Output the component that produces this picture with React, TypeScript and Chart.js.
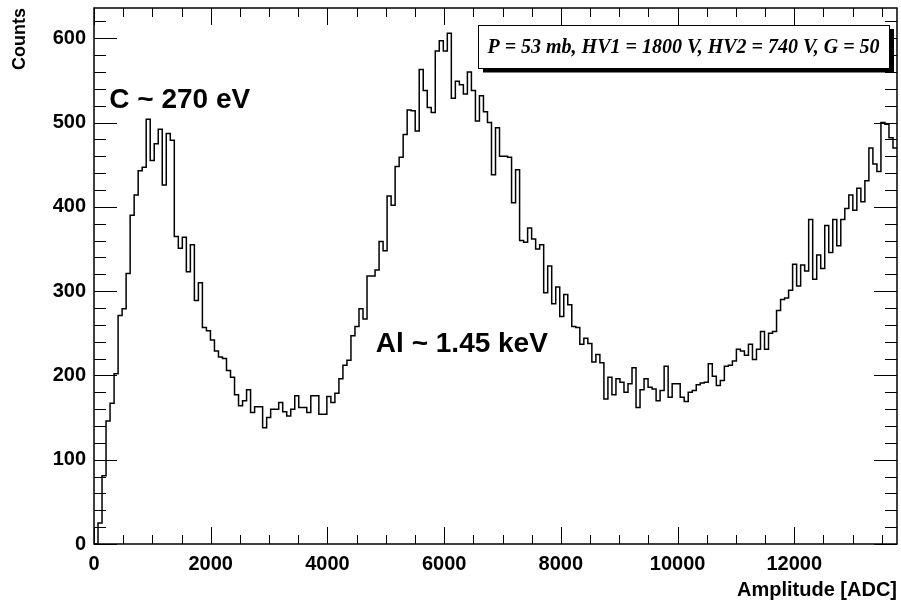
import React, { useEffect, useRef } from "react";
import { Chart, registerables } from "chart.js";

Chart.register(...registerables);

// ---- data ----
const BIN_WIDTH = 68.8; // ADC per bin
const X_MAX = 13760;
const Y_MAX = 636;
const COUNTS: number[] = [
  0, 25, 81, 146, 167, 202, 271, 279, 321, 390,
  414, 443, 447, 504, 455, 475, 492, 426, 487, 479,
  365, 351, 364, 323, 355, 289, 310, 257, 253, 242,
  229, 222, 220, 206, 198, 177, 164, 170, 183, 156,
  163, 163, 138, 150, 160, 160, 168, 157, 152, 160,
  176, 162, 162, 156, 176, 176, 154, 154, 175, 168,
  179, 196, 212, 218, 247, 258, 279, 267, 318, 318,
  325, 359, 348, 413, 402, 448, 459, 486, 515, 514,
  490, 563, 538, 518, 512, 585, 597, 585, 606, 529,
  549, 545, 534, 560, 538, 502, 532, 513, 500, 438,
  494, 460, 460, 459, 405, 444, 360, 358, 375, 362,
  350, 355, 298, 330, 285, 305, 270, 296, 284, 258,
  257, 237, 244, 238, 216, 225, 215, 172, 198, 177,
  196, 192, 180, 190, 209, 162, 183, 196, 186, 184,
  170, 182, 211, 174, 190, 190, 174, 169, 180, 182,
  189, 191, 192, 214, 199, 188, 194, 211, 212, 217,
  231, 229, 224, 237, 219, 231, 252, 231, 250, 252,
  277, 290, 292, 301, 332, 306, 331, 324, 385, 314,
  343, 327, 378, 346, 385, 354, 385, 398, 414, 396,
  422, 406, 431, 470, 451, 442, 500, 498, 482, 470,
];
const X_TICKS = [0, 2000, 4000, 6000, 8000, 10000, 12000];
const Y_TICKS = [0, 100, 200, 300, 400, 500, 600];
const X_MINOR_STEP = 500;
const Y_MINOR_STEP = 20;
const X_MAJOR_STEP = 2000;
const Y_MAJOR_STEP = 100;
const X_TITLE = "Amplitude [ADC]";
const Y_TITLE = "Counts";
const PEAK_TEXTS = ["C ~ 270 eV", "Al ~ 1.45 keV"];
const PEAK_X = [262, 4830];
const PEAK_Y = [517, 228];
const INFO_TEXT = "P = 53 mb, HV1 = 1800 V, HV2 = 740 V, G = 50";

const SANS = '"Liberation Sans", Arial, Helvetica, sans-serif';
const SERIF = '"Liberation Serif", "Times New Roman", serif';

function buildOutline() {
  const pts: { x: number; y: number }[] = [];
  COUNTS.forEach((c, i) => {
    pts.push({ x: i * BIN_WIDTH, y: c });
    pts.push({ x: (i + 1) * BIN_WIDTH, y: c });
  });
  return pts;
}

const rootDecor = {
  id: "rootDecor",
  afterDatasetsDraw(chart: any) {
    const { ctx, chartArea: a, scales } = chart;
    const xs = scales.x;
    const ys = scales.y;
    ctx.save();
    ctx.strokeStyle = "#000";
    ctx.lineWidth = 1;
    const line = (x1: number, y1: number, x2: number, y2: number) => {
      ctx.beginPath();
      ctx.moveTo(x1, y1);
      ctx.lineTo(x2, y2);
      ctx.stroke();
    };
    for (let v = 0; v <= X_MAX; v += X_MINOR_STEP) {
      const px = Math.round(xs.getPixelForValue(v)) + 0.5;
      const len = v % X_MAJOR_STEP === 0 ? 17 : 9;
      line(px, a.bottom, px, a.bottom - len);
      line(px, a.top, px, a.top + len);
    }
    for (let v = 0; v <= Y_MAX; v += Y_MINOR_STEP) {
      const py = Math.round(ys.getPixelForValue(v)) + 0.5;
      const len = v % Y_MAJOR_STEP === 0 ? 23 : 12;
      line(a.left, py, a.left + len, py);
      line(a.right, py, a.right - len, py);
    }
    ctx.lineWidth = 1.5;
    ctx.strokeRect(a.left, a.top, a.right - a.left, a.bottom - a.top);

    // peak annotations
    ctx.fillStyle = "#000";
    ctx.font = `bold 28px ${SANS}`;
    ctx.textAlign = "left";
    ctx.textBaseline = "alphabetic";
    PEAK_TEXTS.forEach((t, i) => {
      ctx.fillText(t, xs.getPixelForValue(PEAK_X[i]), ys.getPixelForValue(PEAK_Y[i]));
    });

    // info pave with shadow
    const bx1 = 478, by1 = 25, bx2 = 889, by2 = 68;
    ctx.fillStyle = "#000";
    ctx.fillRect(bx1 + 5, by1 + 4, bx2 - bx1, by2 - by1 + 0.5);
    ctx.fillStyle = "#fff";
    ctx.fillRect(bx1, by1, bx2 - bx1, by2 - by1);
    ctx.lineWidth = 1;
    ctx.strokeStyle = "#000";
    ctx.strokeRect(bx1 + 0.5, by1 + 0.5, bx2 - bx1, by2 - by1);
    ctx.fillStyle = "#000";
    ctx.font = `italic bold 20px ${SERIF}`;
    ctx.textAlign = "center";
    ctx.textBaseline = "middle";
    ctx.fillText(INFO_TEXT, (bx1 + bx2) / 2, (by1 + by2) / 2 + 1);
    ctx.restore();
  },
};

export default function App() {
  const ref = useRef<HTMLCanvasElement | null>(null);
  useEffect(() => {
    if (!ref.current) return;
    const chart = new Chart(ref.current, {
      type: "line",
      data: {
        datasets: [
          {
            data: buildOutline(),
            borderColor: "#000",
            borderWidth: 1.5,
            pointRadius: 0,
            fill: false,
            tension: 0,
          },
        ],
      },
      options: {
        animation: false,
        responsive: false,
        maintainAspectRatio: false,
        events: [],
        layout: { padding: { left: 0, top: 8, right: 4, bottom: 0 } },
        plugins: { legend: { display: false }, tooltip: { enabled: false } },
        scales: {
          x: {
            type: "linear",
            min: 0,
            max: X_MAX,
            grid: { display: false, drawTicks: false },
            border: { display: false },
            afterBuildTicks: (s: any) => {
              s.ticks = X_TICKS.map((v) => ({ value: v }));
            },
            afterFit: (s: any) => {
              s.height = 61;
              s.paddingLeft = 0;
              s.paddingRight = 0;
              s.paddingTop = 0;
              s.paddingBottom = 0;
            },
            ticks: {
              color: "#000",
              font: { family: SANS, size: 20, weight: "bold" },
              padding: 8,
              maxRotation: 0,
              autoSkip: false,
              callback: (v: any) => String(v),
            },
            title: {
              display: true,
              text: X_TITLE,
              align: "end",
              color: "#000",
              font: { family: SANS, size: 20, weight: "bold" },
              padding: { top: 0, bottom: 3 },
            },
          },
          y: {
            type: "linear",
            min: 0,
            max: Y_MAX,
            grid: { display: false, drawTicks: false },
            border: { display: false },
            afterBuildTicks: (s: any) => {
              s.ticks = Y_TICKS.map((v) => ({ value: v }));
            },
            afterFit: (s: any) => {
              s.width = 94;
              s.paddingLeft = 0;
              s.paddingRight = 0;
              s.paddingTop = 0;
              s.paddingBottom = 0;
            },
            ticks: {
              color: "#000",
              font: { family: SANS, size: 20, weight: "bold" },
              padding: 8,
              autoSkip: false,
              callback: (v: any) => String(v),
            },
            title: {
              display: true,
              text: Y_TITLE,
              align: "end",
              color: "#000",
              font: { family: SANS, size: 18, weight: "bold" },
              padding: { top: 9, bottom: 0 },
            },
          },
        },
      },
      plugins: [rootDecor],
    });
    return () => chart.destroy();
  }, []);
  return (
    <div style={{ position: "absolute", left: 0, top: 0, width: 901, height: 605, background: "#fff" }}>
      <canvas ref={ref} width={901} height={605} style={{ display: "block" }} />
    </div>
  );
}
